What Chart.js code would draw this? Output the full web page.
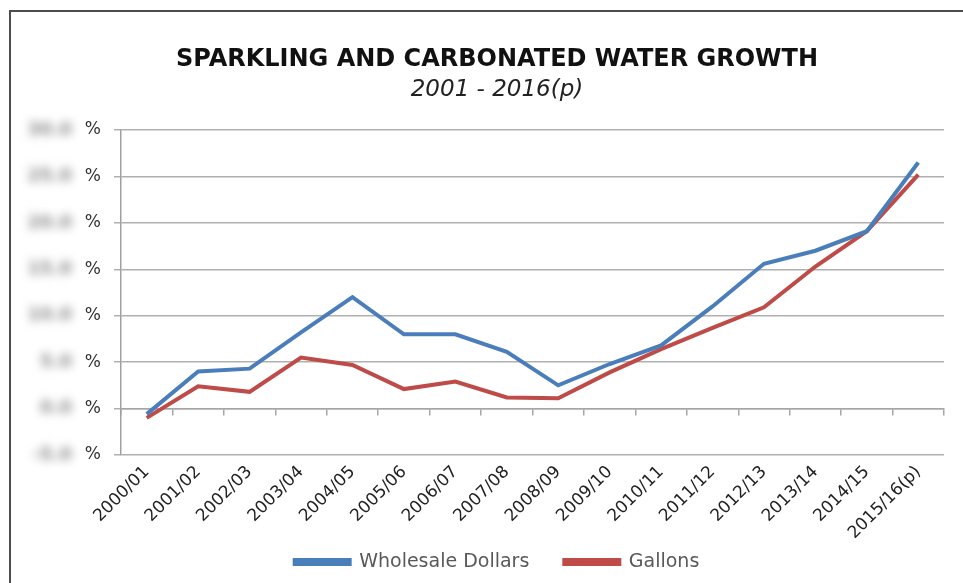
<!DOCTYPE html>
<html><head><meta charset="utf-8">
<script src="https://cdn.jsdelivr.net/npm/chart.js@4/dist/chart.umd.min.js"></script>
<style>
html,body{margin:0;padding:0;background:#fff;overflow:hidden;}
#wrap{position:relative;width:963px;height:583px;}
#frame{position:absolute;left:9px;top:10px;width:1000px;height:1000px;border:2px solid #4d4d4d;box-sizing:border-box;}
canvas{position:absolute;left:0;top:0;}
</style></head><body>
<div id="wrap"><div id="frame"></div><canvas id="c" width="963" height="583"></canvas></div>
<script>
const categories = ['2000/01','2001/02','2002/03','2003/04','2004/05','2005/06','2006/07','2007/08','2008/09','2009/10','2010/11','2011/12','2012/13','2013/14','2014/15','2015/16(p)'];
const wholesaleDollars = [-0.6, 4.0, 4.3, 8.2, 12.0, 8.0, 8.0, 6.1, 2.5, 4.8, 6.8, 11.0, 15.6, 17.0, 19.1, 26.5];
const gallons = [-1.0, 2.4, 1.8, 5.5, 4.7, 2.1, 2.9, 1.2, 1.1, 3.9, 6.4, 8.7, 10.9, 15.3, 19.1, 25.2];
const yTicks = [-5, 0, 5, 10, 15, 20, 25, 30];
const titleText = 'SPARKLING AND CARBONATED WATER GROWTH';
const subtitleText = '2001 - 2016(p)';

const FONT = '"DejaVu Sans", Verdana, sans-serif';

const blurLabels = {
  id: 'blurLabels',
  afterDraw(chart) {
    const y = chart.scales.y, ctx = chart.ctx;
    ctx.save();
    ctx.filter = 'blur(5px)';
    ctx.fillStyle = '#8a8a8a';
    ctx.font = 'bold 18px ' + FONT;
    ctx.textAlign = 'right';
    ctx.textBaseline = 'middle';
    y.ticks.forEach(t => ctx.fillText(t.value.toFixed(1), 72, y.getPixelForValue(t.value)));
    ctx.restore();
  }
};

new Chart(document.getElementById('c'), {
  type: 'line',
  data: {
    labels: categories,
    datasets: [
      { label: 'Wholesale Dollars', data: wholesaleDollars, borderColor: '#4A7EBB', backgroundColor: '#4A7EBB', borderWidth: 4, pointRadius: 0, tension: 0, xAxisID: 'x' },
      { label: 'Gallons', data: gallons, borderColor: '#BE4B48', backgroundColor: '#BE4B48', borderWidth: 4, pointRadius: 0, tension: 0, xAxisID: 'x' }
    ]
  },
  options: {
    responsive: false,
    animation: false,
    layout: { padding: { left: 50, right: 19, top: 0, bottom: 1.5 } },
    plugins: {
      title: { display: true, text: titleText, color: '#111', font: { family: FONT, size: 24, weight: 'bold' }, padding: { top: 45, bottom: 2 } },
      subtitle: { display: true, text: subtitleText, color: '#222', font: { family: FONT, size: 23, style: 'italic' }, padding: { top: 0, bottom: 26.6 } },
      legend: {
        position: 'bottom',
        labels: { color: '#595959', font: { family: FONT, size: 19 }, boxWidth: 55, boxHeight: 4, padding: 35 }
      },
      tooltip: { enabled: false }
    },
    scales: {
      x: {
        type: 'category', position: 'bottom', offset: true,
        afterFit(s) { s.height = 62.5; },
        grid: { display: false },
        border: { display: false },
        ticks: { display: false }
      },
      xLabels: {
        type: 'category', position: { y: -5 }, offset: true,
        grid: { display: true, drawOnChartArea: false, drawTicks: false },
        border: { display: false },
        ticks: { color: '#222', font: { family: FONT, size: 17 }, minRotation: 45, maxRotation: 45, padding: 7, autoSkip: false }
      },
      xZero: {
        type: 'category', position: { y: 0 }, offset: true,
        grid: { display: true, drawOnChartArea: false, drawTicks: true, tickLength: 6, color: '#a6a6a6', lineWidth: 1.5, offset: true },
        border: { display: true, color: '#a6a6a6', width: 1.5 },
        ticks: { display: false }
      },
      y: {
        min: -5, max: 30,
        afterFit(s) { s.width = 71; },
        afterBuildTicks(s) { s.ticks = yTicks.map(v => ({ value: v })); },
        grid: { color: '#b0b0b0', lineWidth: 1.5, tickLength: 7 },
        border: { display: true, color: '#a0a0a0', width: 1.5 },
        ticks: { color: '#333', font: { family: FONT, size: 17 }, padding: 13, callback: () => '%' }
      }
    }
  },
  plugins: [blurLabels]
});
</script>
</body></html>
